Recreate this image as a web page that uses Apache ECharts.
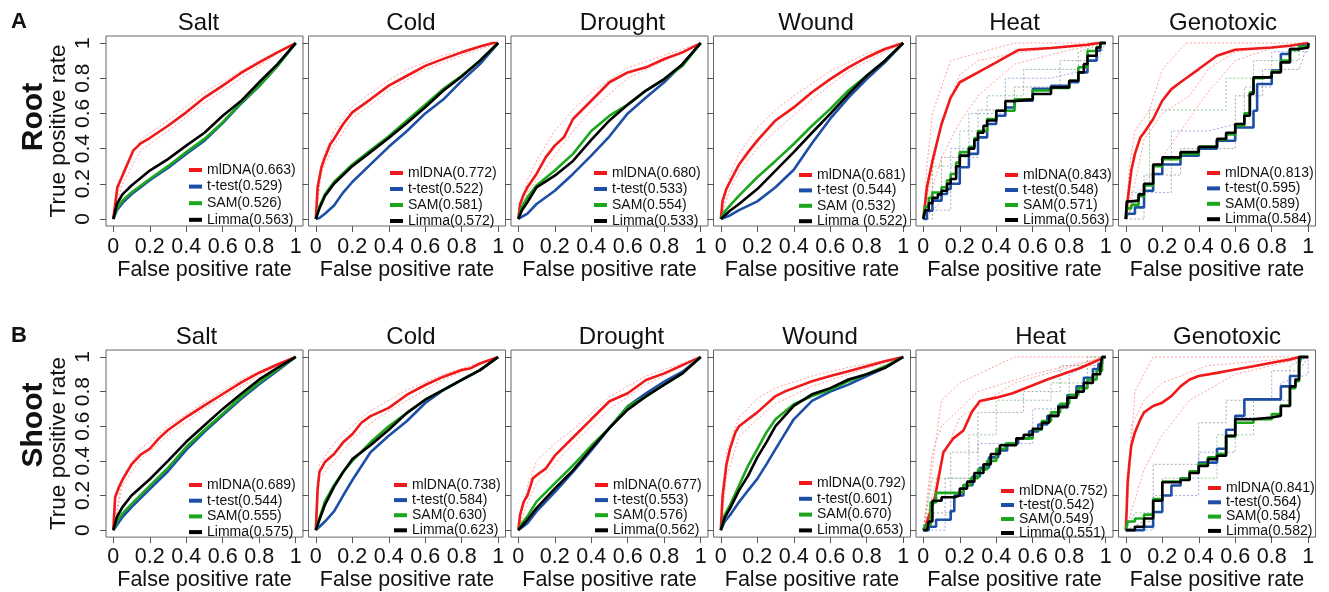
<!DOCTYPE html>
<html>
<head>
<meta charset="utf-8">
<title>ROC curves</title>
<script src="https://cdn.jsdelivr.net/npm/echarts@6/dist/echarts.min.js"></script>
<style>
  html, body { margin: 0; padding: 0; background: #fff; }
  #chart { width: 1329px; height: 592px; }
</style>
</head>
<body>
<div id="chart"></div>
<script>
// ---- data: [false positive rate, true positive rate] ----
const stressTitles = ['Salt', 'Cold', 'Drought', 'Wound', 'Heat', 'Genotoxic']
const rowNames = ['Root', 'Shoot']
const panelLetters = ['A', 'B']
const tickValues = [0, 0.2, 0.4, 0.6, 0.8, 1]

// Root
const rootSaltMl = [[0,0],[0.022,0.18],[0.05,0.246],[0.11,0.39],[0.15,0.43],[0.2,0.46],[0.3,0.53],[0.4,0.606],[0.5,0.69],[0.6,0.758],[0.7,0.83],[0.8,0.89],[0.9,0.947],[1,1]]
const rootSaltTt = [[0,0],[0.02,0.05],[0.05,0.09],[0.1,0.14],[0.2,0.22],[0.3,0.29],[0.4,0.37],[0.5,0.445],[0.6,0.545],[0.7,0.655],[0.8,0.755],[0.9,0.87],[1,1]]
const rootSaltSam = [[0,0],[0.02,0.06],[0.05,0.104],[0.1,0.15],[0.2,0.227],[0.3,0.3],[0.4,0.38],[0.5,0.455],[0.6,0.55],[0.7,0.66],[0.8,0.757],[0.9,0.87],[1,1]]
const rootSaltLim = [[0,0],[0.02,0.085],[0.05,0.14],[0.1,0.19],[0.2,0.275],[0.3,0.34],[0.4,0.417],[0.5,0.49],[0.6,0.587],[0.7,0.67],[0.8,0.777],[0.9,0.88],[1,1]]
const rootSaltLabels = ['mlDNA(0.663)', 't-test(0.529)', 'SAM(0.526)', 'Limma(0.563)']

const rootColdMl = [[0,0],[0.01,0.18],[0.03,0.29],[0.05,0.35],[0.08,0.426],[0.1,0.455],[0.15,0.54],[0.2,0.606],[0.3,0.68],[0.4,0.758],[0.5,0.814],[0.6,0.87],[0.7,0.91],[0.8,0.947],[0.9,0.98],[0.97,1],[1,1]]
const rootColdTt = [[0,0],[0.02,0.005],[0.05,0.03],[0.1,0.076],[0.15,0.15],[0.2,0.21],[0.3,0.31],[0.4,0.41],[0.5,0.5],[0.6,0.6],[0.7,0.68],[0.8,0.785],[0.9,0.88],[1,1]]
const rootColdSam = [[0,0],[0.02,0.07],[0.05,0.14],[0.1,0.21],[0.2,0.31],[0.3,0.39],[0.4,0.47],[0.5,0.56],[0.6,0.65],[0.7,0.74],[0.8,0.814],[0.9,0.9],[1,1]]
const rootColdLim = [[0,0],[0.02,0.06],[0.05,0.13],[0.1,0.2],[0.2,0.3],[0.3,0.38],[0.4,0.46],[0.5,0.545],[0.6,0.635],[0.7,0.73],[0.8,0.81],[0.9,0.9],[1,1]]
const rootColdLabels = ['mlDNA(0.772)', 't-test(0.522)', 'SAM(0.581)', 'Limma(0.572)']

const rootDroughtMl = [[0,0],[0.01,0.085],[0.03,0.14],[0.05,0.18],[0.1,0.256],[0.15,0.35],[0.2,0.417],[0.25,0.464],[0.3,0.568],[0.4,0.672],[0.5,0.777],[0.6,0.833],[0.7,0.862],[0.8,0.909],[0.9,0.947],[1,1]]
const rootDroughtTt = [[0,0],[0.05,0.03],[0.1,0.085],[0.2,0.16],[0.3,0.256],[0.4,0.36],[0.5,0.47],[0.6,0.6],[0.7,0.69],[0.8,0.777],[0.9,0.88],[1,1]]
const rootDroughtSam = [[0,0],[0.02,0.07],[0.05,0.123],[0.1,0.19],[0.2,0.275],[0.3,0.37],[0.4,0.5],[0.5,0.587],[0.6,0.65],[0.7,0.73],[0.8,0.795],[0.9,0.87],[1,1]]
const rootDroughtLim = [[0,0],[0.02,0.05],[0.05,0.095],[0.1,0.18],[0.2,0.246],[0.3,0.33],[0.4,0.45],[0.5,0.56],[0.6,0.65],[0.7,0.73],[0.8,0.795],[0.9,0.88],[1,1]]
const rootDroughtLabels = ['mlDNA(0.680)', 't-test(0.533)', 'SAM(0.554)', 'Limma(0.533)']

const rootWoundMl = [[0,0],[0.01,0.104],[0.03,0.17],[0.05,0.21],[0.1,0.31],[0.15,0.38],[0.2,0.445],[0.3,0.56],[0.4,0.634],[0.5,0.72],[0.6,0.795],[0.7,0.862],[0.8,0.918],[0.9,0.966],[1,1]]
const rootWoundTt = [[0,0],[0.05,0.02],[0.1,0.05],[0.2,0.1],[0.3,0.18],[0.4,0.28],[0.5,0.43],[0.6,0.57],[0.7,0.69],[0.8,0.795],[0.9,0.89],[1,1]]
const rootWoundSam = [[0,0],[0.02,0.04],[0.05,0.076],[0.1,0.133],[0.2,0.237],[0.3,0.33],[0.4,0.426],[0.5,0.53],[0.6,0.625],[0.7,0.73],[0.8,0.814],[0.9,0.9],[1,1]]
const rootWoundLim = [[0,0],[0.05,0.047],[0.1,0.085],[0.2,0.17],[0.3,0.275],[0.4,0.38],[0.5,0.49],[0.6,0.597],[0.7,0.71],[0.8,0.814],[0.9,0.9],[1,1]]
const rootWoundLabels = ['mlDNA(0.681)', 't-test (0.544)', 'SAM (0.532)', 'Limma (0.522)']

const rootHeatMl = [[0,0],[0.02,0.18],[0.05,0.33],[0.1,0.54],[0.15,0.69],[0.2,0.777],[0.3,0.833],[0.4,0.89],[0.52,0.96],[0.7,0.972],[0.9,0.99],[0.96,1],[1,1]]
const rootHeatTt = [[0,0],[0.02,0.047],[0.05,0.104],[0.1,0.142],[0.13,0.17],[0.15,0.2],[0.2,0.294],[0.25,0.37],[0.3,0.464],[0.35,0.54],[0.4,0.587],[0.45,0.634],[0.5,0.672],[0.6,0.74],[0.7,0.757],[0.8,0.777],[0.85,0.833],[0.9,0.9],[0.95,0.956],[0.97,1],[1,1]]
const rootHeatSam = [[0,0],[0.01,0.07],[0.03,0.12],[0.05,0.15],[0.1,0.18],[0.13,0.22],[0.15,0.256],[0.18,0.32],[0.2,0.38],[0.25,0.41],[0.28,0.46],[0.3,0.5],[0.35,0.568],[0.4,0.615],[0.5,0.68],[0.6,0.73],[0.7,0.744],[0.8,0.786],[0.85,0.862],[0.9,0.955],[0.95,0.975],[0.97,1],[1,1]]
const rootHeatLim = [[0,0],[0.01,0.05],[0.03,0.09],[0.05,0.12],[0.08,0.14],[0.1,0.16],[0.13,0.2],[0.15,0.227],[0.18,0.3],[0.2,0.36],[0.25,0.4],[0.28,0.45],[0.3,0.49],[0.33,0.53],[0.35,0.56],[0.4,0.615],[0.45,0.67],[0.5,0.68],[0.6,0.71],[0.7,0.748],[0.8,0.786],[0.85,0.833],[0.88,0.88],[0.9,0.928],[0.95,0.975],[0.97,1],[1,1]]
const rootHeatLabels = ['mlDNA(0.843)', 't-test(0.548)', 'SAM(0.571)', 'Limma(0.563)']

const rootGenoMl = [[0,0],[0.01,0.104],[0.03,0.275],[0.05,0.37],[0.08,0.464],[0.1,0.49],[0.15,0.568],[0.2,0.672],[0.25,0.738],[0.3,0.777],[0.4,0.852],[0.5,0.928],[0.6,0.962],[0.8,0.975],[0.9,0.985],[1,1]]
const rootGenoTt = [[0,0],[0.01,0.03],[0.05,0.066],[0.1,0.16],[0.15,0.256],[0.2,0.31],[0.3,0.36],[0.4,0.4],[0.5,0.445],[0.6,0.52],[0.7,0.615],[0.72,0.767],[0.8,0.843],[0.85,0.9375],[0.9,0.966],[0.95,0.985],[1,1]]
const rootGenoSam = [[0,0],[0.005,0.06],[0.03,0.08],[0.07,0.13],[0.1,0.19],[0.15,0.3],[0.2,0.34],[0.3,0.37],[0.4,0.41],[0.5,0.45],[0.55,0.48],[0.6,0.53],[0.65,0.6],[0.68,0.72],[0.7,0.8],[0.75,0.81],[0.8,0.84],[0.85,0.9],[0.9,0.96],[0.95,0.98],[1,1]]
const rootGenoLim = [[0,0],[0.005,0.1],[0.03,0.104],[0.07,0.14],[0.1,0.2],[0.15,0.31],[0.2,0.35],[0.3,0.38],[0.4,0.41],[0.5,0.455],[0.55,0.49],[0.6,0.54],[0.65,0.587],[0.68,0.71],[0.7,0.805],[0.75,0.805],[0.8,0.833],[0.85,0.89],[0.9,0.966],[0.95,0.975],[1,1]]
const rootGenoLabels = ['mlDNA(0.813)', 't-test(0.595)', 'SAM(0.589)', 'Limma(0.584)']

// Shoot
const shootSaltMl = [[0,0],[0.01,0.19],[0.03,0.246],[0.05,0.29],[0.1,0.38],[0.15,0.436],[0.2,0.47],[0.25,0.53],[0.3,0.578],[0.4,0.653],[0.5,0.72],[0.6,0.786],[0.7,0.852],[0.8,0.909],[0.9,0.956],[1,1]]
const shootSaltTt = [[0,0],[0.02,0.03],[0.05,0.076],[0.1,0.133],[0.2,0.237],[0.3,0.34],[0.4,0.464],[0.5,0.568],[0.6,0.663],[0.7,0.757],[0.8,0.843],[0.9,0.92],[1,1]]
const shootSaltSam = [[0,0],[0.02,0.05],[0.05,0.095],[0.1,0.15],[0.2,0.256],[0.3,0.36],[0.4,0.48],[0.5,0.578],[0.6,0.672],[0.7,0.767],[0.8,0.852],[0.9,0.928],[1,1]]
const shootSaltLim = [[0,0],[0.02,0.076],[0.05,0.133],[0.1,0.2],[0.2,0.294],[0.3,0.4],[0.4,0.51],[0.5,0.606],[0.6,0.7],[0.7,0.786],[0.8,0.87],[0.9,0.9375],[1,1]]
const shootSaltLabels = ['mlDNA(0.689)', 't-test(0.544)', 'SAM(0.555)', 'Limma(0.575)']

const shootColdMl = [[0,0],[0.01,0.24],[0.02,0.336],[0.05,0.393],[0.1,0.44],[0.15,0.507],[0.2,0.554],[0.25,0.62],[0.3,0.658],[0.4,0.706],[0.5,0.782],[0.6,0.838],[0.7,0.886],[0.8,0.924],[0.85,0.935],[0.9,0.962],[1,1]]
const shootColdTt = [[0,0],[0.02,0.02],[0.05,0.05],[0.1,0.108],[0.15,0.2],[0.2,0.288],[0.3,0.45],[0.4,0.545],[0.5,0.63],[0.6,0.734],[0.7,0.81],[0.8,0.867],[0.9,0.924],[1,1]]
const shootColdSam = [[0,0],[0.02,0.07],[0.05,0.165],[0.1,0.26],[0.15,0.336],[0.2,0.4],[0.3,0.507],[0.4,0.6],[0.5,0.677],[0.6,0.753],[0.7,0.81],[0.8,0.867],[0.9,0.924],[1,1]]
const shootColdLim = [[0,0],[0.02,0.06],[0.05,0.146],[0.1,0.25],[0.15,0.336],[0.2,0.41],[0.3,0.49],[0.4,0.58],[0.5,0.677],[0.6,0.753],[0.7,0.81],[0.8,0.867],[0.9,0.924],[1,1]]
const shootColdLabels = ['mlDNA(0.738)', 't-test(0.584)', 'SAM(0.630)', 'Limma(0.623)']

const shootDroughtMl = [[0,0],[0.01,0.09],[0.03,0.165],[0.05,0.2],[0.08,0.3],[0.1,0.317],[0.15,0.355],[0.2,0.43],[0.3,0.535],[0.4,0.64],[0.5,0.744],[0.6,0.79],[0.7,0.867],[0.8,0.905],[0.9,0.953],[1,1]]
const shootDroughtTt = [[0,0],[0.05,0.04],[0.1,0.108],[0.2,0.22],[0.3,0.336],[0.4,0.46],[0.5,0.59],[0.6,0.715],[0.7,0.79],[0.8,0.858],[0.9,0.915],[1,1]]
const shootDroughtSam = [[0,0],[0.02,0.04],[0.05,0.08],[0.1,0.165],[0.2,0.27],[0.3,0.374],[0.4,0.487],[0.5,0.59],[0.6,0.715],[0.7,0.772],[0.8,0.84],[0.9,0.905],[1,1]]
const shootDroughtLim = [[0,0],[0.05,0.06],[0.1,0.127],[0.2,0.24],[0.3,0.345],[0.4,0.47],[0.5,0.59],[0.6,0.696],[0.7,0.772],[0.8,0.84],[0.9,0.905],[1,1]]
const shootDroughtLabels = ['mlDNA(0.677)', 't-test(0.553)', 'SAM(0.576)', 'Limma(0.562)']

const shootWoundMl = [[0,0],[0.01,0.2],[0.03,0.373],[0.05,0.468],[0.08,0.564],[0.1,0.6],[0.15,0.64],[0.2,0.68],[0.3,0.774],[0.35,0.8],[0.4,0.82],[0.5,0.86],[0.6,0.89],[0.7,0.918],[0.8,0.946],[0.9,0.975],[1,1]]
const shootWoundTt = [[0,0],[0.02,0.048],[0.05,0.086],[0.1,0.162],[0.15,0.23],[0.2,0.296],[0.25,0.38],[0.3,0.468],[0.35,0.554],[0.4,0.64],[0.5,0.746],[0.6,0.8],[0.7,0.84],[0.8,0.89],[0.9,0.937],[1,1]]
const shootWoundSam = [[0,0],[0.02,0.086],[0.05,0.143],[0.1,0.258],[0.15,0.373],[0.2,0.468],[0.25,0.564],[0.3,0.64],[0.4,0.727],[0.5,0.774],[0.6,0.81],[0.7,0.86],[0.8,0.9],[0.9,0.946],[1,1]]
const shootWoundLim = [[0,0],[0.02,0.07],[0.05,0.124],[0.1,0.23],[0.15,0.315],[0.2,0.42],[0.25,0.507],[0.3,0.6],[0.4,0.717],[0.5,0.784],[0.6,0.82],[0.7,0.87],[0.8,0.9],[0.9,0.937],[1,1]]
const shootWoundLabels = ['mlDNA(0.792)', 't-test(0.601)', 'SAM(0.670)', 'Limma(0.653)']

const shootHeatMl = [[0,0],[0.015,0.03],[0.064,0.19],[0.11,0.45],[0.165,0.53],[0.22,0.575],[0.265,0.68],[0.31,0.746],[0.4,0.765],[0.49,0.79],[0.68,0.87],[0.86,0.936],[1,1]]
const shootHeatTt = [[0,0],[0.03,0.02],[0.07,0.06],[0.13,0.06],[0.15,0.11],[0.17,0.2],[0.22,0.26],[0.27,0.31],[0.31,0.36],[0.36,0.42],[0.41,0.46],[0.46,0.5],[0.52,0.53],[0.58,0.57],[0.63,0.61],[0.68,0.66],[0.74,0.72],[0.79,0.78],[0.84,0.83],[0.88,0.88],[0.93,0.93],[0.96,0.96],[0.98,1],[1,1]]
const shootHeatSam = [[0,0],[0.01,0.03],[0.04,0.16],[0.07,0.215],[0.18,0.22],[0.22,0.26],[0.26,0.3],[0.3,0.35],[0.35,0.4],[0.4,0.47],[0.45,0.5],[0.51,0.53],[0.6,0.58],[0.65,0.63],[0.7,0.68],[0.75,0.73],[0.8,0.78],[0.85,0.82],[0.9,0.87],[0.95,0.92],[0.98,1],[1,1]]
const shootHeatLim = [[0,0],[0.02,0],[0.03,0.05],[0.05,0.17],[0.1,0.19],[0.17,0.2],[0.2,0.24],[0.24,0.28],[0.28,0.33],[0.33,0.38],[0.37,0.44],[0.42,0.49],[0.51,0.53],[0.55,0.55],[0.6,0.585],[0.65,0.62],[0.69,0.66],[0.74,0.71],[0.79,0.765],[0.84,0.8],[0.88,0.85],[0.93,0.9],[0.97,0.936],[0.98,1],[1,1]]
const shootHeatLabels = ['mlDNA(0.752)', 't-test(0.542)', 'SAM(0.549)', 'Limma(0.551)']

const shootGenoMl = [[0,0],[0.005,0.124],[0.01,0.277],[0.02,0.39],[0.03,0.488],[0.05,0.564],[0.08,0.64],[0.1,0.68],[0.15,0.717],[0.2,0.736],[0.25,0.774],[0.3,0.83],[0.35,0.87],[0.4,0.89],[0.5,0.908],[0.6,0.927],[0.7,0.946],[0.8,0.966],[0.9,0.985],[0.95,1],[1,1]]
const shootGenoTt = [[0,0],[0.03,0],[0.1,0.02],[0.15,0.105],[0.2,0.2],[0.25,0.258],[0.3,0.3],[0.35,0.34],[0.4,0.39],[0.5,0.47],[0.55,0.58],[0.6,0.66],[0.65,0.755],[0.82,0.755],[0.85,0.83],[0.9,0.89],[0.95,0.95],[0.96,1],[1,1]]
const shootGenoSam = [[0,0],[0.01,0.05],[0.05,0.067],[0.1,0.09],[0.15,0.18],[0.2,0.28],[0.3,0.3],[0.35,0.34],[0.4,0.38],[0.45,0.42],[0.5,0.44],[0.55,0.54],[0.6,0.62],[0.7,0.64],[0.8,0.67],[0.85,0.72],[0.9,0.82],[0.93,0.86],[0.95,1],[1,1]]
const shootGenoLim = [[0,0],[0.02,0],[0.05,0.02],[0.1,0.067],[0.15,0.17],[0.2,0.277],[0.3,0.29],[0.35,0.33],[0.4,0.37],[0.45,0.41],[0.5,0.43],[0.55,0.545],[0.6,0.64],[0.7,0.65],[0.8,0.66],[0.85,0.717],[0.9,0.83],[0.93,0.87],[0.95,1],[1,1]]
const shootGenoLabels = ['mlDNA(0.841)', 't-test(0.564)', 'SAM(0.584)', 'Limma(0.582)']

// faint dotted cross-validation folds around the mlDNA curve (smooth panels)
const rootSaltFoldsRed = [[[0,0],[0.05,0.27],[0.15,0.45],[0.3,0.56],[0.4,0.64],[0.5,0.72],[0.6,0.78],[0.8,0.9],[1,1]], [[0,0],[0.05,0.2],[0.15,0.39],[0.3,0.5],[0.5,0.66],[0.7,0.8],[0.9,0.94],[1,1]]]
const rootColdFoldsRed = [[[0,0],[0.03,0.32],[0.1,0.5],[0.2,0.64],[0.4,0.79],[0.5,0.85],[0.7,0.93],[0.9,0.98],[1,1]], [[0,0],[0.03,0.26],[0.1,0.42],[0.2,0.57],[0.4,0.73],[0.6,0.85],[0.8,0.93],[1,1]]]
const rootDroughtFoldsRed = [[[0,0],[0.05,0.22],[0.1,0.33],[0.2,0.5],[0.3,0.62],[0.4,0.72],[0.6,0.86],[0.8,0.93],[1,1]], [[0,0],[0.05,0.15],[0.1,0.22],[0.2,0.36],[0.3,0.5],[0.4,0.62],[0.6,0.8],[0.8,0.9],[1,1]]]
const rootWoundFoldsRed = [[[0,0],[0.05,0.25],[0.1,0.37],[0.2,0.52],[0.3,0.62],[0.4,0.7],[0.6,0.84],[0.8,0.94],[1,1]], [[0,0],[0.05,0.17],[0.1,0.27],[0.2,0.4],[0.3,0.5],[0.5,0.68],[0.7,0.84],[0.9,0.95],[1,1]]]
const shootSaltFoldsRed = [[[0,0],[0.05,0.31],[0.15,0.47],[0.3,0.6],[0.5,0.74],[0.7,0.87],[0.9,0.96],[1,1]], [[0,0],[0.05,0.26],[0.15,0.41],[0.3,0.55],[0.5,0.7],[0.7,0.83],[0.9,0.95],[1,1]]]
const shootColdFoldsRed = [[[0,0],[0.02,0.38],[0.1,0.5],[0.2,0.6],[0.3,0.69],[0.5,0.81],[0.7,0.9],[1,1]], [[0,0],[0.02,0.3],[0.1,0.4],[0.2,0.52],[0.3,0.62],[0.5,0.75],[0.7,0.87],[1,1]]]
const shootDroughtFoldsRed = [[[0,0],[0.05,0.25],[0.1,0.4],[0.2,0.5],[0.3,0.58],[0.5,0.77],[0.7,0.89],[1,1]], [[0,0],[0.05,0.16],[0.1,0.27],[0.2,0.38],[0.3,0.5],[0.5,0.7],[0.7,0.84],[1,1]]]
const shootWoundFoldsRed = [[[0,0],[0.03,0.45],[0.1,0.65],[0.2,0.76],[0.3,0.82],[0.5,0.89],[0.7,0.94],[1,1]], [[0,0],[0.03,0.3],[0.1,0.54],[0.2,0.64],[0.3,0.73],[0.5,0.83],[0.7,0.9],[1,1]]]

// faint dotted folds in the small-sample panels (heat, genotoxic)
const rootHeatFoldsRed = [
  [[0,0],[0.02,0.3],[0.05,0.6],[0.15,0.9],[0.5,1],[1,1]],
  [[0,0],[0.1,0.55],[0.2,0.82],[0.3,0.9],[0.55,0.95],[1,1]],
  [[0,0],[0.1,0.35],[0.2,0.55],[0.3,0.7],[0.5,0.88],[0.8,0.96],[1,1]]
]
const rootHeatFoldsGreen = [[[0,0],[0.05,0],[0.05,0.3],[0.2,0.3],[0.2,0.5],[0.35,0.5],[0.35,0.7],[0.55,0.7],[0.55,0.85],[0.85,0.85],[0.85,0.95],[1,1]]]
const rootHeatFoldsGrey = [[[0,0],[0.1,0.1],[0.1,0.35],[0.3,0.35],[0.3,0.62],[0.5,0.62],[0.5,0.75],[0.75,0.75],[0.75,0.9],[0.95,0.9],[1,1]]]
const rootHeatFoldsBlue = [[[0,0],[0.05,0.05],[0.15,0.05],[0.15,0.4],[0.25,0.4],[0.25,0.6],[0.45,0.6],[0.45,0.8],[0.7,0.8],[0.9,0.85],[0.9,1],[1,1]]]

const rootGenoFoldsRed = [
  [[0,0],[0.02,0.3],[0.05,0.5],[0.13,0.62],[0.2,0.85],[0.33,1],[1,1]],
  [[0,0],[0.05,0.2],[0.1,0.45],[0.2,0.6],[0.35,0.7],[0.45,0.85],[0.6,0.95],[1,1]],
  [[0,0],[0.1,0.2],[0.2,0.35],[0.3,0.5],[0.45,0.72],[0.6,0.9],[0.8,0.97],[1,1]]
]
const rootGenoFoldsGreen = [[[0,0],[0.05,0.1],[0.13,0.2],[0.13,0.62],[0.55,0.62],[0.55,0.8],[0.7,0.8],[0.7,0.9],[0.95,0.9],[0.95,1],[1,1]]]
const rootGenoFoldsGrey = [[[0,0],[0.1,0],[0.1,0.25],[0.3,0.25],[0.3,0.4],[0.6,0.4],[0.6,0.7],[0.75,0.7],[0.75,0.85],[0.95,0.85],[1,1]]]
const rootGenoFoldsBlue = [[[0,0],[0.02,0.15],[0.25,0.15],[0.25,0.5],[0.45,0.5],[0.65,0.55],[0.65,0.75],[0.8,0.75],[0.8,0.95],[1,0.95],[1,1]]]

const shootHeatFoldsRed = [
  [[0,0],[0.05,0.45],[0.1,0.6],[0.3,0.8],[0.6,0.9],[1,1]],
  [[0,0],[0.05,0.2],[0.1,0.4],[0.2,0.65],[0.5,0.85],[1,1]],
  [[0,0],[0.1,0.75],[0.2,0.85],[0.5,1],[1,1]]
]
const shootHeatFoldsGreen = [[[0,0],[0.05,0.3],[0.25,0.3],[0.25,0.55],[0.4,0.55],[0.4,0.75],[0.7,0.75],[0.7,0.85],[0.9,0.85],[0.9,1],[1,1]]]
const shootHeatFoldsGrey = [[[0,0],[0.05,0.1],[0.15,0.1],[0.15,0.45],[0.3,0.45],[0.3,0.68],[0.55,0.68],[0.55,0.8],[0.75,0.8],[0.75,0.95],[0.95,0.95],[1,1]]]
const shootHeatFoldsBlue = [[[0,0],[0.12,0],[0.12,0.3],[0.3,0.3],[0.3,0.5],[0.6,0.5],[0.6,0.7],[0.8,0.7],[0.8,0.9],[1,1]]]

const shootGenoFoldsRed = [
  [[0,0],[0.05,0.8],[0.15,1],[1,1]],
  [[0,0],[0.03,0.6],[0.1,0.75],[0.2,0.85],[0.45,0.95],[1,1]],
  [[0,0],[0.1,0.35],[0.2,0.55],[0.35,0.75],[0.6,0.9],[1,1]]
]
const shootGenoFoldsGreen = [[[0,0],[0.05,0.1],[0.2,0.1],[0.2,0.3],[0.5,0.3],[0.5,0.55],[0.7,0.55],[0.7,0.75],[0.9,0.75],[0.9,0.95],[1,1]]]
const shootGenoFoldsGrey = [[[0,0],[0.1,0.05],[0.15,0.05],[0.15,0.38],[0.4,0.38],[0.4,0.62],[0.55,0.62],[0.55,0.75],[0.8,0.75],[0.8,0.92],[0.95,0.92],[1,1]]]
const shootGenoFoldsBlue = [[[0,0],[0.15,0],[0.15,0.2],[0.4,0.2],[0.4,0.45],[0.6,0.45],[0.6,0.65],[0.85,0.65],[0.85,0.85],[1,0.9],[1,1]]]

// ---- panel table built from the arrays above ----
const panels = [
  [rootSaltMl, rootSaltTt, rootSaltSam, rootSaltLim, rootSaltLabels],
  [rootColdMl, rootColdTt, rootColdSam, rootColdLim, rootColdLabels],
  [rootDroughtMl, rootDroughtTt, rootDroughtSam, rootDroughtLim, rootDroughtLabels],
  [rootWoundMl, rootWoundTt, rootWoundSam, rootWoundLim, rootWoundLabels],
  [rootHeatMl, rootHeatTt, rootHeatSam, rootHeatLim, rootHeatLabels],
  [rootGenoMl, rootGenoTt, rootGenoSam, rootGenoLim, rootGenoLabels],
  [shootSaltMl, shootSaltTt, shootSaltSam, shootSaltLim, shootSaltLabels],
  [shootColdMl, shootColdTt, shootColdSam, shootColdLim, shootColdLabels],
  [shootDroughtMl, shootDroughtTt, shootDroughtSam, shootDroughtLim, shootDroughtLabels],
  [shootWoundMl, shootWoundTt, shootWoundSam, shootWoundLim, shootWoundLabels],
  [shootHeatMl, shootHeatTt, shootHeatSam, shootHeatLim, shootHeatLabels],
  [shootGenoMl, shootGenoTt, shootGenoSam, shootGenoLim, shootGenoLabels]
]
// per panel: [red folds, blue folds, green folds, grey folds]
const folds = {
  0: [rootSaltFoldsRed], 1: [rootColdFoldsRed], 2: [rootDroughtFoldsRed], 3: [rootWoundFoldsRed],
  4: [rootHeatFoldsRed, rootHeatFoldsBlue, rootHeatFoldsGreen, rootHeatFoldsGrey],
  5: [rootGenoFoldsRed, rootGenoFoldsBlue, rootGenoFoldsGreen, rootGenoFoldsGrey],
  6: [shootSaltFoldsRed], 7: [shootColdFoldsRed], 8: [shootDroughtFoldsRed], 9: [shootWoundFoldsRed],
  10: [shootHeatFoldsRed, shootHeatFoldsBlue, shootHeatFoldsGreen, shootHeatFoldsGrey],
  11: [shootGenoFoldsRed, shootGenoFoldsBlue, shootGenoFoldsGreen, shootGenoFoldsGrey]
}

// ---- layout ----
const FONT = '"Liberation Sans", Arial, Helvetica, sans-serif'
const colors = ['#f01818', '#1d4fa6', '#1ba61b', '#000000']
const foldColors = ['rgba(255,120,120,0.7)', 'rgba(100,120,200,0.6)', 'rgba(80,160,80,0.6)', 'rgba(110,110,110,0.6)']
const boxLeft = [106, 308.5, 511, 713.5, 916, 1118.5]
const boxTop = [36, 350]
const boxW = 197
const boxH = 190
const titleShift = [[-6, 4, 13, 4, 0, 6], [-8, 4, 12, 8, 26, 10]]
const legendLeft = [[189, 390, 594, 799, 1005, 1207], [189, 394, 595, 799, 1001, 1208]]
const legendTop = [[163, 166, 166, 168, 168, 166], [478, 478, 478, 476, 484, 481]]
const legendGap = [[2.6, 2, 2, 1.4, 1, 1.4], [1.7, 1.1, 1.1, 1.8, 0, 0.3]]

const grid = [], xAxis = [], yAxis = [], series = [], legend = [], graphic = []

panels.forEach((p, i) => {
  const row = Math.floor(i / 6)
  const col = i % 6
  const stepped = col >= 4   // few genes in heat / genotoxic -> staircase curves
  grid.push({
    left: boxLeft[col], top: boxTop[row], width: boxW, height: boxH,
    show: true, borderColor: '#666', borderWidth: 1, backgroundColor: 'transparent'
  })
  xAxis.push({
    gridIndex: i, type: 'value', min: -0.04, max: 1.04,
    axisLine: { show: false, onZero: false },
    splitLine: { show: false },
    axisTick: { show: true, inside: false, length: 6, customValues: tickValues, lineStyle: { color: '#555' } },
    axisLabel: { customValues: tickValues, margin: row ? 9 : 10, fontSize: 21.5, color: '#111', fontFamily: FONT },
    name: 'False positive rate', nameLocation: 'middle', nameGap: row ? 31 : 33,
    nameTextStyle: { fontSize: 21.5, color: '#111', fontFamily: FONT }
  })
  yAxis.push({
    gridIndex: i, type: 'value', min: -0.04, max: 1.04,
    axisLine: { show: false, onZero: false },
    splitLine: { show: false },
    axisTick: { show: true, inside: false, length: 6, customValues: tickValues, lineStyle: { color: '#555' } },
    axisLabel: { show: col === 0, customValues: tickValues, rotate: 90, margin: 12, fontSize: 21, color: '#111', fontFamily: FONT },
    name: col === 0 ? 'True positive rate' : '', nameLocation: 'middle', nameGap: 36,
    nameTextStyle: { fontSize: 22.5, color: '#111', fontFamily: FONT }
  })

  // dotted folds underneath
  if (folds[i]) {
    folds[i].forEach((group, m) => {
      group.forEach(d => series.push({
        type: 'line', xAxisIndex: i, yAxisIndex: i, data: d, symbol: 'none', silent: true,
        lineStyle: { color: foldColors[m], width: 1, type: [2, 2] }, z: 1
      }))
    })
  }

  const labels = p[4]
  for (let m = 0; m < 4; m++) {
    series.push({
      type: 'line', name: labels[m], xAxisIndex: i, yAxisIndex: i, data: p[m],
      symbol: 'none', silent: true, step: stepped && m > 0 ? 'end' : false,
      lineStyle: { color: colors[m], width: 2.6 }, itemStyle: { color: colors[m] }, z: 3 + m
    })
  }
  legend.push({
    data: labels, orient: 'vertical', left: legendLeft[row][col], top: legendTop[row][col],
    icon: 'rect', itemWidth: 13, itemHeight: 4, itemGap: legendGap[row][col], padding: 0,
    selectedMode: false,
    textStyle: { fontSize: 14, lineHeight: 13, color: '#111', fontFamily: FONT }
  })
  graphic.push({
    type: 'text', x: boxLeft[col] + boxW / 2 + titleShift[row][col], y: boxTop[row] - 13,
    style: { text: stressTitles[col], font: '24px ' + FONT, fill: '#111', align: 'center', verticalAlign: 'middle' }
  })
})

rowNames.forEach((name, r) => {
  graphic.push({
    type: 'text', x: 19, y: [22, 336][r],
    style: { text: panelLetters[r], font: 'bold 22px ' + FONT, fill: '#111', align: 'center', verticalAlign: 'middle' }
  })
  graphic.push({
    type: 'text', x: 34, y: [117, 425][r], rotation: Math.PI / 2,
    style: { text: name, font: 'bold 30px ' + FONT, fill: '#111', align: 'center', verticalAlign: 'middle' }
  })
})

const chart = echarts.init(document.getElementById('chart'), null, { renderer: 'canvas' })
chart.setOption({
  animation: false,
  backgroundColor: '#fff',
  grid, xAxis, yAxis, series, legend, graphic
})
</script>
</body>
</html>
